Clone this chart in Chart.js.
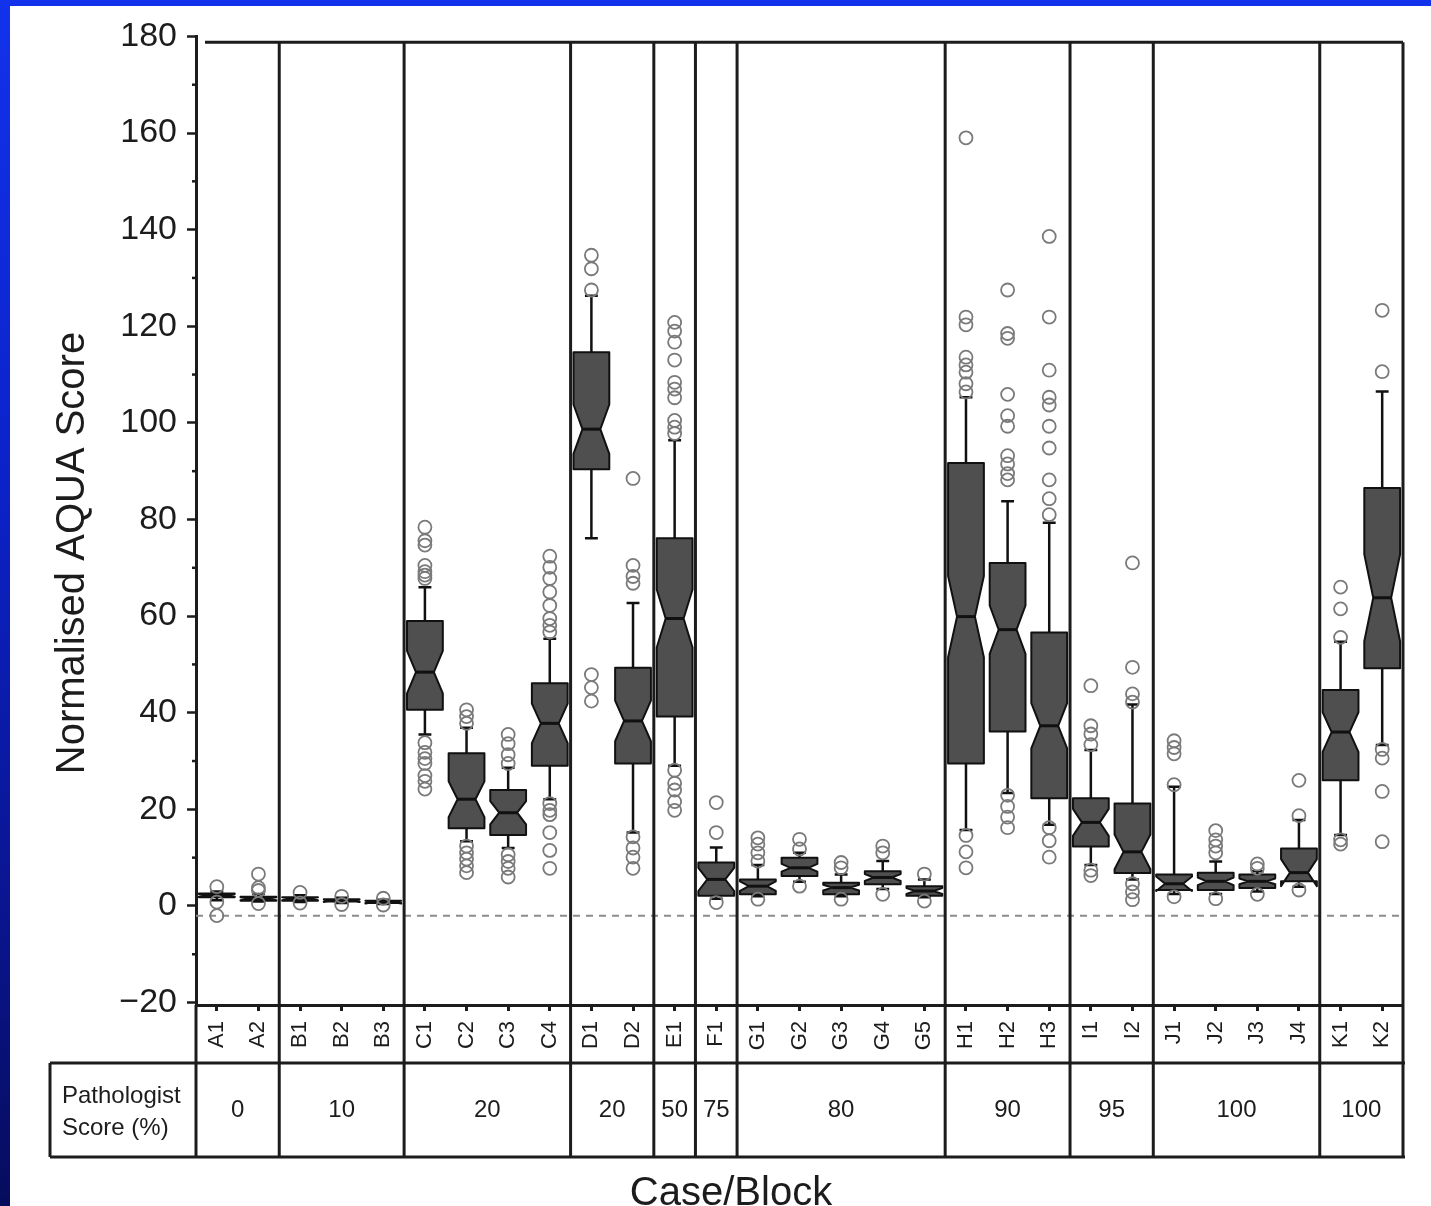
<!DOCTYPE html>
<html>
<head>
<meta charset="utf-8">
<script src="https://cdn.jsdelivr.net/npm/chart.js@4.4.1/dist/chart.umd.min.js"></script>
<style>
  html, body { margin: 0; padding: 0; width: 1431px; height: 1206px; overflow: hidden;
    background: linear-gradient(to bottom, #1232ec 0%, #0b22c8 40%, #0a1590 75%, #060c5c 100%); }
  #wrap { position: absolute; left: 10px; top: 6px; width: 1421px; height: 1200px; background: #fff; }
</style>
</head>
<body>
<div id="wrap"><canvas id="chart" width="1421" height="1200"></canvas></div>
<script>
// case / block names
const labels = ['A1','A2','B1','B2','B3','C1','C2','C3','C4','D1','D2','E1','F1',
  'G1','G2','G3','G4','G5','H1','H2','H3','I1','I2','J1','J2','J3','J4','K1','K2'];

// blocks per case, and the pathologist score of each case
const groupSizes = [2, 3, 4, 2, 1, 1, 5, 3, 2, 4, 2];
const pathologistScores = ['0', '10', '20', '20', '50', '75', '80', '90', '95', '100', '100'];

// box plot stats
const whiskerLow  = [1.2, 0.9, 0.8, 0.6, 0.4, 35.5, 13.4, 12.0, 22.1, 76.1, 15.2, 29.0, 1.5,
  2.0, 5.0, 2.0, 3.5, 1.8, 15.7, 23.4, 16.8, 8.5, 5.5, 2.5, 2.5, 3.0, 4.0, 14.7, 33.3];
const q1          = [1.8, 1.1, 1.1, 0.9, 0.6, 40.6, 16.1, 14.7, 29.0, 90.4, 29.5, 39.2, 2.1,
  2.4, 6.2, 2.4, 4.5, 2.1, 29.5, 36.1, 22.3, 12.3, 6.8, 3.3, 3.3, 3.7, 5.1, 26.0, 49.2];
const median      = [2.2, 1.5, 1.5, 1.1, 0.8, 48.4, 22.1, 19.3, 37.8, 98.7, 38.3, 59.5, 5.5,
  4.1, 7.9, 3.8, 5.9, 3.1, 59.9, 57.2, 37.3, 17.3, 11.2, 4.6, 5.1, 5.1, 6.9, 36.0, 63.8];
const q3          = [2.6, 1.9, 1.8, 1.4, 1.1, 59.0, 31.6, 24.0, 46.1, 114.6, 49.3, 76.1, 9.0,
  5.5, 10.0, 4.8, 7.2, 4.1, 91.7, 71.0, 56.6, 22.3, 21.2, 6.5, 6.9, 6.5, 11.9, 44.7, 86.5];
const whiskerHigh = [3.0, 2.5, 2.2, 1.7, 1.3, 66.0, 36.9, 28.6, 55.3, 126.3, 62.7, 96.4, 12.1,
  8.5, 11.0, 6.5, 9.3, 5.5, 105.3, 83.8, 79.3, 32.3, 41.7, 24.7, 9.2, 7.2, 17.8, 54.7, 106.5];
const notch       = [0.3, 0.3, 0.3, 0.3, 0.3, 4.4, 3.7, 2.4, 4.1, 5.1, 4.2, 6.0, 2.4,
  1.0, 0.8, 0.6, 0.7, 0.6, 8.4, 5.0, 4.7, 2.8, 3.6, 1.5, 0.8, 0.6, 2.8, 4.1, 9.0];
const outliers = [
  [4.0, 0.8, -2.0],
  [6.6, 3.8, 3.2, 0.5],
  [2.8, 0.6],
  [2.0, 0.3],
  [1.6, 0.2],
  [78.4, 75.6, 74.7, 70.5, 69.2, 68.5, 67.8, 33.8, 31.8, 30.5, 29.5, 27.0, 25.8, 24.2],
  [40.6, 39.2, 37.8, 12.4, 11.0, 9.7, 8.3, 6.9],
  [35.5, 33.6, 31.3, 29.5, 10.6, 9.2, 7.8, 6.0],
  [72.4, 70.1, 67.8, 65.0, 62.2, 59.5, 58.1, 56.7, 21.2, 19.8, 18.9, 15.2, 11.5, 7.8],
  [134.7, 131.9, 127.5, 47.9, 45.2, 42.4],
  [88.5, 70.5, 68.2, 66.8, 14.3, 12.0, 10.1, 7.8],
  [120.8, 119.0, 116.7, 113.0, 108.4, 107.0, 105.2, 100.5, 99.1, 97.8, 28.1, 25.4, 24.0, 21.6, 19.8],
  [21.4, 15.2, 0.7],
  [14.1, 12.8, 11.0, 9.3, 1.4],
  [13.8, 11.8, 4.1],
  [9.0, 7.9, 1.4],
  [12.4, 11.0, 2.4],
  [6.6, 1.0],
  [159.0, 121.9, 120.3, 113.6, 112.0, 110.5, 108.1, 106.4, 14.6, 11.2, 7.9],
  [127.5, 118.5, 117.5, 105.9, 101.5, 99.3, 93.2, 91.5, 89.5, 88.2, 22.9, 20.6, 18.4, 16.2],
  [138.6, 121.9, 110.9, 105.3, 103.7, 99.3, 94.8, 88.2, 84.3, 81.0, 16.2, 13.5, 10.1],
  [45.6, 37.3, 35.6, 33.4, 7.4, 6.3],
  [71.0, 49.4, 43.9, 42.2, 4.6, 2.9, 1.3],
  [34.2, 32.8, 31.5, 25.1, 1.9],
  [15.6, 13.7, 12.4, 11.0, 1.5],
  [8.7, 7.8, 2.4],
  [26.0, 18.7, 3.3],
  [66.0, 61.5, 55.6, 13.7, 12.8],
  [123.3, 110.6, 32.4, 30.6, 23.7, 13.3]
];

// axis ticks
const yTicks = [-20, 0, 20, 40, 60, 80, 100, 120, 140, 160, 180];
const yMinorTicks = [-10, 10, 30, 50, 70, 90, 110, 130, 150, 170];
const refLine = -2;      // dotted baseline
const frameTop = 178.8;  // top edge of the frame box

const FONT = "'Liberation Sans', Arial, Helvetica, sans-serif";
const INK = '#1c1c1c';

// points for the outlier dataset
const outlierPoints = [];
outliers.forEach((list, i) => {
  list.forEach(v => outlierPoints.push({ x: labels[i], y: v }));
});

const boxPlugin = {
  id: 'notchedBoxes',
  beforeDatasetsDraw(chart) {
    const { ctx, chartArea: a, scales: { x, y } } = chart;
    const band = x.getPixelForValue(1) - x.getPixelForValue(0);
    const w = band * 0.86;
    const py = v => y.getPixelForValue(v);
    ctx.save();

    // dotted line just under zero
    ctx.strokeStyle = '#8c8c8c';
    ctx.lineWidth = 2;
    ctx.setLineDash([7, 6]);
    ctx.beginPath();
    ctx.moveTo(a.left, py(refLine));
    ctx.lineTo(a.right, py(refLine));
    ctx.stroke();
    ctx.setLineDash([]);

    ctx.lineJoin = 'round';
    labels.forEach((lab, i) => {
      const cx = x.getPixelForValue(i);
      const L = cx - w / 2, R = cx + w / 2;
      const cap = w * 0.18;

      // whiskers + staples
      ctx.strokeStyle = '#111';
      ctx.lineWidth = 2.5;
      ctx.beginPath();
      ctx.moveTo(cx, py(q3[i])); ctx.lineTo(cx, py(whiskerHigh[i]));
      ctx.moveTo(cx, py(q1[i])); ctx.lineTo(cx, py(whiskerLow[i]));
      ctx.moveTo(cx - cap, py(whiskerHigh[i])); ctx.lineTo(cx + cap, py(whiskerHigh[i]));
      ctx.moveTo(cx - cap, py(whiskerLow[i])); ctx.lineTo(cx + cap, py(whiskerLow[i]));
      ctx.stroke();

      // notched box
      const m = py(median[i]);
      const nHi = py(median[i] + notch[i]);
      const nLo = py(median[i] - notch[i]);
      ctx.beginPath();
      ctx.moveTo(L, py(q1[i]));
      ctx.lineTo(L, nLo);
      ctx.lineTo(cx - w / 4, m);
      ctx.lineTo(L, nHi);
      ctx.lineTo(L, py(q3[i]));
      ctx.lineTo(R, py(q3[i]));
      ctx.lineTo(R, nHi);
      ctx.lineTo(cx + w / 4, m);
      ctx.lineTo(R, nLo);
      ctx.lineTo(R, py(q1[i]));
      ctx.closePath();
      ctx.fillStyle = '#4f4f4f';
      ctx.fill();
      ctx.lineWidth = 2;
      ctx.stroke();

      // median
      ctx.lineWidth = 3;
      ctx.beginPath();
      ctx.moveTo(cx - w / 4, m);
      ctx.lineTo(cx + w / 4, m);
      ctx.stroke();
    });
    ctx.restore();
  },
  afterDraw(chart) {
    const { ctx, chartArea: a, scales: { x, y } } = chart;
    const top = y.getPixelForValue(frameTop);
    const tTop = a.bottom + 58, tBot = a.bottom + 152, tLeft = a.left - 146;
    const line = (x1, y1, x2, y2) => {
      ctx.beginPath(); ctx.moveTo(x1, y1); ctx.lineTo(x2, y2); ctx.stroke();
    };
    ctx.save();
    ctx.strokeStyle = INK;
    ctx.lineWidth = 3;

    // frame
    line(a.left + 9, top, a.right, top);
    line(a.right, top, a.right, tBot);
    line(a.left, a.bottom, a.left, tBot);

    // minor y ticks
    ctx.lineWidth = 2.5;
    yMinorTicks.forEach(v => line(a.left - 4, y.getPixelForValue(v), a.left, y.getPixelForValue(v)));

    // table box
    ctx.lineWidth = 3;
    line(tLeft, tTop, a.right + 2, tTop);
    line(tLeft, tBot, a.right + 2, tBot);
    line(tLeft, tTop, tLeft, tBot);

    // case separators + pathologist scores
    ctx.fillStyle = INK;
    ctx.font = '24px ' + FONT;
    ctx.textAlign = 'center';
    ctx.textBaseline = 'middle';
    let start = 0;
    groupSizes.forEach((n, g) => {
      const x0 = x.getPixelForValue(start - 0.5);
      const x1 = x.getPixelForValue(start + n - 0.5);
      if (start > 0) line(x0, top, x0, tBot);
      ctx.fillText(pathologistScores[g], (x0 + x1) / 2, (tTop + tBot) / 2);
      start += n;
    });

    ctx.textAlign = 'left';
    ctx.fillText('Pathologist', tLeft + 12, tTop + 33);
    ctx.fillText('Score (%)', tLeft + 12, tTop + 65);

    // axis titles
    ctx.font = '40px ' + FONT;
    ctx.textAlign = 'center';
    ctx.textBaseline = 'alphabetic';
    ctx.fillText('Case/Block', 721, 1199);

    ctx.translate(a.left - 123, 547);
    ctx.rotate(-Math.PI / 2);
    ctx.textBaseline = 'middle';
    ctx.fillText('Normalised AQUA Score', 0, 0);
    ctx.restore();
  }
};

new Chart(document.getElementById('chart'), {
  type: 'line',
  data: {
    labels: labels,
    datasets: [{
      label: 'Outliers',
      data: outlierPoints,
      showLine: false,
      pointStyle: 'circle',
      pointRadius: 6.5,
      pointHoverRadius: 6.5,
      pointBorderWidth: 1.8,
      pointBorderColor: '#7a7a7a',
      pointBackgroundColor: 'rgba(255,255,255,0)'
    }]
  },
  options: {
    responsive: false,
    animation: false,
    layout: { padding: { top: 29, right: 28, left: 0, bottom: 0 } },
    plugins: { legend: { display: false }, tooltip: { enabled: false } },
    scales: {
      x: {
        type: 'category',
        offset: true,
        grid: { drawOnChartArea: false, offset: false, tickLength: 6, tickWidth: 3, tickColor: INK },
        border: { display: true, color: INK, width: 3 },
        ticks: { minRotation: 90, maxRotation: 90, autoSkip: false, padding: 10, color: INK,
                 font: { family: FONT, size: 22 } },
        afterFit: s => { s.height = 201; }
      },
      y: {
        min: -20.5,
        max: 180,
        afterBuildTicks: s => { s.ticks = yTicks.map(v => ({ value: v })); },
        grid: { drawOnChartArea: false, tickLength: 9, tickWidth: 2.5, tickColor: INK },
        border: { display: true, color: INK, width: 3 },
        ticks: { padding: 10, color: INK, font: { family: FONT, size: 34 },
                 callback: v => v < 0 ? '\u2212' + Math.abs(v) : String(v) },
        afterFit: s => { s.width = 186; }
      }
    }
  },
  plugins: [boxPlugin]
});
</script>
</body>
</html>
